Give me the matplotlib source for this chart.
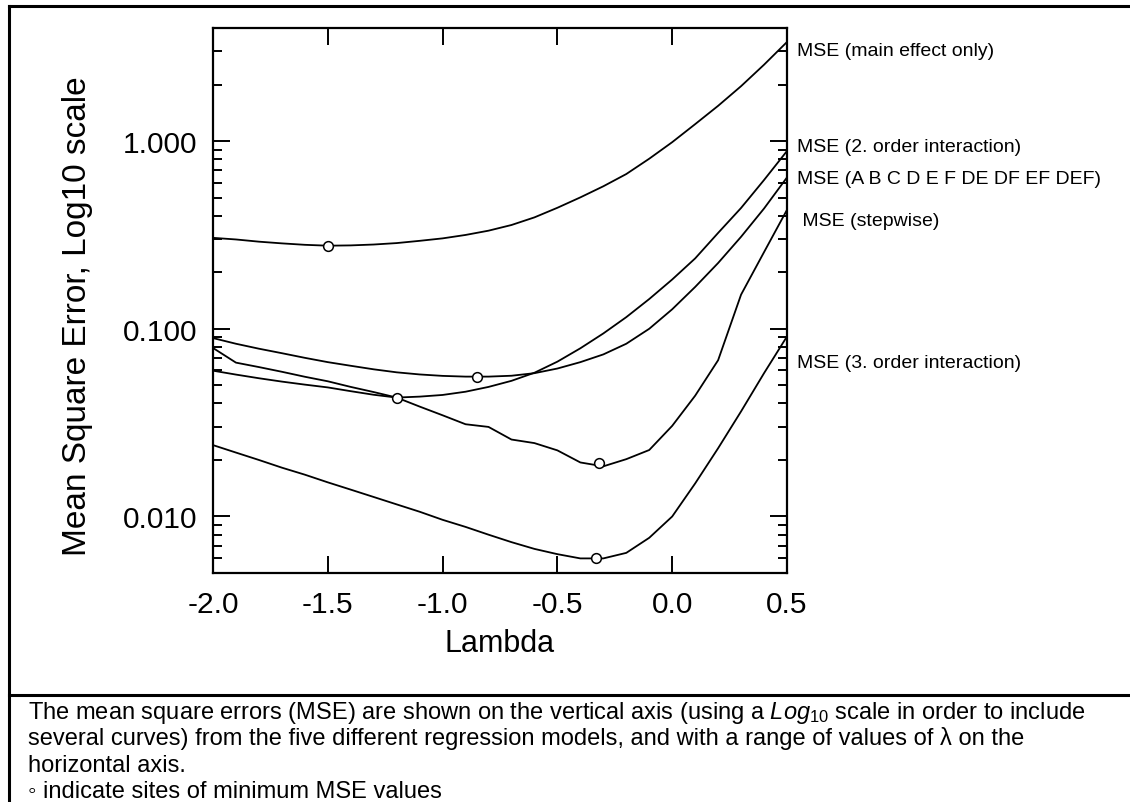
import matplotlib
matplotlib.use('Agg')
import matplotlib.pyplot as plt
from matplotlib.lines import Line2D
from matplotlib.ticker import LogLocator, NullFormatter, FormatStrFormatter

plt.rcParams['font.family'] = ['Liberation Sans', 'DejaVu Sans']
plt.rcParams['axes.unicode_minus'] = False
plt.rcParams['mathtext.fontset'] = 'custom'
plt.rcParams['mathtext.rm'] = 'Liberation Sans'
plt.rcParams['mathtext.it'] = 'Liberation Sans:italic'

# lambda values (grid of 0.1)
lam = [-2.0, -1.9, -1.8, -1.7, -1.6, -1.5, -1.4, -1.3, -1.2, -1.1, -1.0, -0.9, -0.8,
       -0.7, -0.6, -0.5, -0.4, -0.3, -0.2, -0.1, 0.0, 0.1, 0.2, 0.3, 0.4, 0.5]

# MSE for the five regression models
mse_main = [0.305, 0.299, 0.291, 0.285, 0.280, 0.277, 0.278, 0.281, 0.286, 0.294, 0.303,
            0.316, 0.333, 0.357, 0.392, 0.441, 0.501, 0.574, 0.667, 0.805, 0.986, 1.23,
            1.54, 1.96, 2.55, 3.37]
mse_order2 = [0.0598, 0.0570, 0.0545, 0.0523, 0.0504, 0.0487, 0.0465, 0.0445, 0.0430,
              0.0435, 0.0444, 0.0462, 0.0490, 0.0528, 0.0583, 0.0668, 0.0787, 0.0944,
              0.1153, 0.144, 0.183, 0.237, 0.324, 0.44, 0.62, 0.885]
mse_abc = [0.0892, 0.0832, 0.0783, 0.0741, 0.0700, 0.0664, 0.0635, 0.0608, 0.0586,
           0.0571, 0.0561, 0.0556, 0.0556, 0.0562, 0.0580, 0.0614, 0.0664, 0.0730,
           0.0832, 0.100, 0.127, 0.167, 0.224, 0.309, 0.437, 0.64]
mse_step = [0.079, 0.066, 0.0625, 0.059, 0.0555, 0.0525, 0.049, 0.046, 0.043, 0.0385,
            0.0346, 0.031, 0.030, 0.0257, 0.0246, 0.0225, 0.0194, 0.0185, 0.0202,
            0.0226, 0.0304, 0.044, 0.068, 0.152, 0.256, 0.43]
mse_order3 = [0.0240, 0.0219, 0.0200, 0.0182, 0.0167, 0.0152, 0.0139, 0.0127, 0.0116,
              0.0106, 0.0096, 0.0088, 0.0080, 0.0073, 0.00672, 0.0063, 0.00598, 0.00598,
              0.0064, 0.0077, 0.0100, 0.0150, 0.0231, 0.0363, 0.058, 0.091]

# sites of minimum MSE
min_lam = [-1.5, -1.2, -0.85, -0.32, -0.33]
min_mse = [0.277, 0.0429, 0.0556, 0.0192, 0.00598]

curve_labels = ['MSE (main effect only)', 'MSE (2. order interaction)',
                'MSE (A B C D E F DE DF EF DEF)', ' MSE (stepwise)',
                'MSE (3. order interaction)']
label_y = [52, 147, 180, 222, 363]

W, H = 1130, 803
fig = plt.figure(figsize=(11.3, 8.03), dpi=100)
ax = fig.add_axes([213 / W, 1 - 574 / H, 574 / W, 545 / H])

for s in [mse_main, mse_order2, mse_abc, mse_step, mse_order3]:
    ax.plot(lam, s, color='black', lw=1.3)
ax.plot(min_lam, min_mse, 'o', mfc='white', mec='black', ms=7, mew=1.1, ls='none')

ax.set_yscale('log')
ax.set_xlim(-2.0, 0.5)
ax.set_ylim(0.005, 4.0)
ax.set_xticks([-2.0, -1.5, -1.0, -0.5, 0.0, 0.5])
ax.xaxis.set_major_formatter(FormatStrFormatter('%.1f'))
ax.set_yticks([0.01, 0.1, 1.0])
ax.yaxis.set_major_formatter(FormatStrFormatter('%.3f'))
ax.yaxis.set_minor_locator(LogLocator(base=10, subs=range(2, 10)))
ax.yaxis.set_minor_formatter(NullFormatter())
ax.tick_params(axis='both', which='major', direction='in', length=12, width=1.4,
               labelsize=21.5, top=True, right=True)
ax.tick_params(axis='x', pad=12.5)
ax.tick_params(axis='y', pad=11)
ax.tick_params(axis='y', which='minor', direction='in', length=6.5, width=1.4,
               left=True, right=True)
for sp in ax.spines.values():
    sp.set_linewidth(1.6)

fig.text(78 / W, 1 - 316 / H, 'Mean Square Error, Log10 scale', rotation=90,
         ha='center', va='center', fontsize=24)
fig.text(500 / W, 1 - 644 / H, 'Lambda', ha='center', va='center', fontsize=22)

for txt, yy in zip(curve_labels, label_y):
    fig.text(797 / W, 1 - yy / H, txt, ha='left', va='center', fontsize=14)

# frame and caption separator
fig.add_artist(Line2D([9 / W, 9 / W], [0, 1 - 7 / H], color='black', lw=2.2))
fig.add_artist(Line2D([9 / W, 1], [1 - 7 / H, 1 - 7 / H], color='black', lw=2.2))
fig.add_artist(Line2D([9 / W, 1], [1 - 696 / H, 1 - 696 / H], color='black', lw=2.2))

caption = [
    r'The mean square errors (MSE) are shown on the vertical axis (using a $\mathit{Log}_{\mathit{10}}$ scale in order to include',
    'several curves) from the five different regression models, and with a range of values of λ on the',
    'horizontal axis.',
    '◦ indicate sites of minimum MSE values',
]
for i, line in enumerate(caption):
    fig.text(28 / W, 1 - (719 + 26.3 * i) / H, line, ha='left', va='baseline',
             fontsize=17)

fig.savefig('out.png', dpi=100)
